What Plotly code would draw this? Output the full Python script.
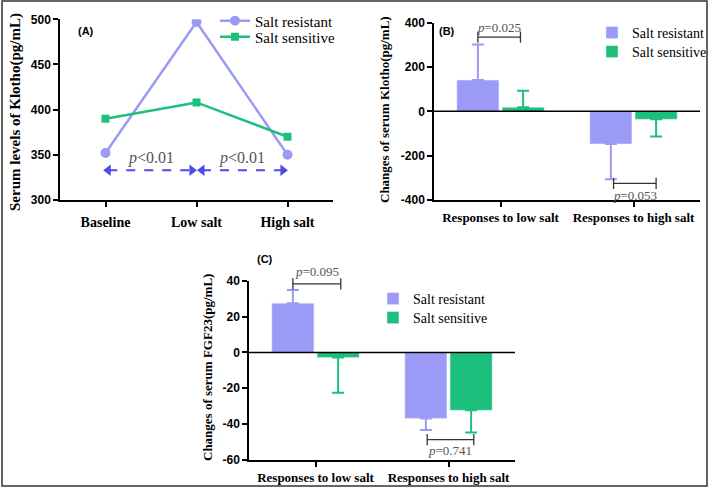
import plotly.graph_objects as go

# 数据 (A): Klotho 水平
phases = ['Baseline', 'Low salt', 'High salt']
klotho_resistant = [352, 497, 350]
klotho_sensitive = [390, 408, 370]

# 数据 (B), (C): 变化量及误差
responses = ['Responses to low salt', 'Responses to high salt']
dklotho_resistant = [141, -147]
dklotho_resistant_err = [161, 159]
dklotho_sensitive = [18, -36]
dklotho_sensitive_err = [75, 78]

dfgf_resistant = [27.4, -36.8]
dfgf_resistant_err = [7.4, 6.5]
dfgf_sensitive = [-2.9, -32.3]
dfgf_sensitive_err = [19.6, 12.3]

klotho_ticks = [300, 350, 400, 450, 500]
dklotho_ticks = [-400, -200, 0, 200, 400]
dfgf_ticks = [-60, -40, -20, 0, 20, 40]

purple = '#9b9bf7'
green = '#1dbf7d'
serif = 'Liberation Serif'
sans = 'Liberation Sans'
W, H = 709, 488


def px(x):
    return x / W


def py(y):
    return 1 - y / H


def one_sided(vals, errs):
    # 误差棒只朝远离0的方向
    up = [e if v >= 0 else 0 for v, e in zip(vals, errs)]
    down = [e if v < 0 else 0 for v, e in zip(vals, errs)]
    return dict(type='data', symmetric=False, array=up, arrayminus=down,
                thickness=2, width=6)


xa = list(range(len(phases)))
xb = list(range(len(responses)))

fig = go.Figure()

# ---- (A) 折线图
fig.add_trace(go.Scatter(x=xa, y=klotho_resistant, name='Salt resistant',
                         mode='lines+markers', line=dict(color=purple, width=2.5),
                         marker=dict(symbol='circle', size=10, color=purple),
                         xaxis='x', yaxis='y', legend='legend'))
fig.add_trace(go.Scatter(x=xa, y=klotho_sensitive, name='Salt sensitive',
                         mode='lines+markers', line=dict(color=green, width=2.5),
                         marker=dict(symbol='square', size=8, color=green),
                         xaxis='x', yaxis='y', legend='legend2'))

# 虚线双向箭头 + p 值
arrow_y = 333
for i0, i1 in [(0, 1), (1, 2)]:
    a, b = i0 + 0.03 + (0.03 if i0 else 0), i1 - 0.05
    fig.add_trace(go.Scatter(x=[a, b], y=[arrow_y, arrow_y], mode='lines+markers',
                             line=dict(color='#4b4be8', width=2, dash='dash'),
                             marker=dict(symbol=['triangle-left', 'triangle-right'],
                                         size=10, color='#4b4be8'),
                             xaxis='x', yaxis='y', showlegend=False, hoverinfo='skip'))
    fig.add_annotation(x=(i0 + i1) / 2, y=347, xref='x', yref='y',
                       text='<i>p</i>&lt;0.01', showarrow=False,
                       font=dict(family=serif, size=16, color='#555'))

# ---- (B) Klotho 变化
fig.add_trace(go.Bar(x=xb, y=dklotho_resistant, name='Salt resistant',
                     marker_color=purple, error_y=dict(color=purple, **one_sided(dklotho_resistant, dklotho_resistant_err)),
                     xaxis='x2', yaxis='y2', legend='legend3'))
fig.add_trace(go.Bar(x=xb, y=dklotho_sensitive, name='Salt sensitive',
                     marker_color=green, error_y=dict(color=green, **one_sided(dklotho_sensitive, dklotho_sensitive_err)),
                     xaxis='x2', yaxis='y2', legend='legend4'))

# ---- (C) FGF23 变化
fig.add_trace(go.Bar(x=xb, y=dfgf_resistant, name='Salt resistant',
                     marker_color=purple, error_y=dict(color=purple, **one_sided(dfgf_resistant, dfgf_resistant_err)),
                     xaxis='x3', yaxis='y3', legend='legend5'))
fig.add_trace(go.Bar(x=xb, y=dfgf_sensitive, name='Salt sensitive',
                     marker_color=green, error_y=dict(color=green, **one_sided(dfgf_sensitive, dfgf_sensitive_err)),
                     xaxis='x3', yaxis='y3', legend='legend6'))


def bracket(ax, x0, x1, y, label, shift):
    fig.add_trace(go.Scatter(x=[x0, x1], y=[y, y], mode='lines+markers',
                             line=dict(color='#333', width=1.3),
                             marker=dict(symbol='line-ns', size=8,
                                         line=dict(color='#333', width=1.3)),
                             xaxis='x' + ax, yaxis='y' + ax, showlegend=False,
                             hoverinfo='skip', cliponaxis=False))
    fig.add_annotation(x=(x0 + x1) / 2, y=y, xref='x' + ax, yref='y' + ax,
                       text=label, showarrow=False, yanchor='middle', yshift=shift,
                       font=dict(family=serif, size=13, color='#555'))


bracket('2', -0.17, 0.15, 335, '<i>p</i>=0.025', 10)
bracket('2', 0.85, 1.17, -325, '<i>p</i>=0.053', -12)
bracket('3', -0.17, 0.19, 38.2, '<i>p</i>=0.095', 12)
bracket('3', 0.84, 1.19, -48.6, '<i>p</i>=0.741', -11)

axis_style = dict(showline=True, linecolor='black', linewidth=1.5, ticks='outside',
                  ticklen=5, tickwidth=1.5, tickcolor='black', showgrid=False,
                  zeroline=False, fixedrange=True)
ytick = dict(family=sans, size=12, color='black', weight='bold')


def yticks(vals):
    return dict(tickmode='array', tickvals=vals, ticktext=[str(v) for v in vals])


def leg(x, y, size):
    return dict(x=px(x), y=py(y), xanchor='left', yanchor='middle',
                bgcolor='rgba(0,0,0,0)', borderwidth=0,
                font=dict(family=serif, size=size, color='black'))


fig.update_layout(
    width=W, height=H, margin=dict(l=0, r=0, t=0, b=0, autoexpand=False), autosize=False,
    paper_bgcolor='white', plot_bgcolor='rgba(0,0,0,0)',
    barmode='group', bargap=0.32, bargroupgap=0.07,
    xaxis=dict(domain=[px(60), px(333)], range=[-0.5, 2.5],
               tickmode='array', tickvals=xa, ticktext=phases,
               tickfont=dict(family=serif, size=14, color='black', weight='bold'),
               ticklabelstandoff=3, anchor='y', **axis_style),
    yaxis=dict(domain=[py(200), py(19.3)], range=[300, 500], **yticks(klotho_ticks),
               tickfont=ytick, anchor='x', **axis_style),
    xaxis2=dict(domain=[px(434), px(700)], range=[-0.5, 1.5],
                tickmode='array', tickvals=xb, ticktext=responses,
                tickfont=dict(family=serif, size=13, color='black', weight='bold'),
                anchor='y2', **axis_style),
    yaxis2=dict(domain=[py(200), py(22.7)], range=[-400, 400], **yticks(dklotho_ticks),
                tickfont=ytick, anchor='x2', **axis_style),
    xaxis3=dict(domain=[px(249), px(515)], range=[-0.5, 1.5],
                tickmode='array', tickvals=xb, ticktext=responses,
                tickfont=dict(family=serif, size=13, color='black', weight='bold'),
                anchor='y3', **axis_style),
    yaxis3=dict(domain=[py(460), py(280.7)], range=[-60, 40], **yticks(dfgf_ticks),
                tickfont=ytick, anchor='x3', **axis_style),
    legend=leg(215, 21, 15),
    legend2=leg(215, 37, 15),
    legend3=leg(592, 33, 14),
    legend4=leg(592, 52, 14),
    legend5=leg(373, 299, 14),
    legend6=leg(373, 318, 14),
)

# 零线 (B, C)
for ax in ['2', '3']:
    fig.add_shape(type='line', xref='x' + ax + ' domain', yref='y' + ax,
                  x0=0, x1=1, y0=0, y1=0, line=dict(color='black', width=1.5),
                  layer='above')

# 外框
fig.add_shape(type='rect', xref='paper', yref='paper', x0=px(2), x1=px(707),
              y0=py(486), y1=py(1), line=dict(color='#333', width=1.5))

# y 轴标题和面板标签
titles = [('Serum levels of Klotho(pg/mL)', 15, 15, 112),
          ('Changes of serum Klotho(pg/mL)', 385, 13, 110),
          ('Changes of serum FGF23(pg/mL)', 207, 13, 368)]
for txt, x, size, y in titles:
    fig.add_annotation(x=px(x), y=py(y), xref='paper', yref='paper', text='<b>' + txt + '</b>',
                       textangle=-90, showarrow=False, xanchor='center', yanchor='middle',
                       font=dict(family=serif, size=size, color='black'))

for txt, x, y in [('(A)', 86, 31), ('(B)', 447, 31), ('(C)', 265, 259)]:
    fig.add_annotation(x=px(x), y=py(y), xref='paper', yref='paper', text='<b>' + txt + '</b>',
                       showarrow=False, xanchor='center', yanchor='middle',
                       font=dict(family=sans, size=11, color='black'))

fig.write_html("out.html", config={'displayModeBar': False},
               post_script="document.body.style.margin='0';")
